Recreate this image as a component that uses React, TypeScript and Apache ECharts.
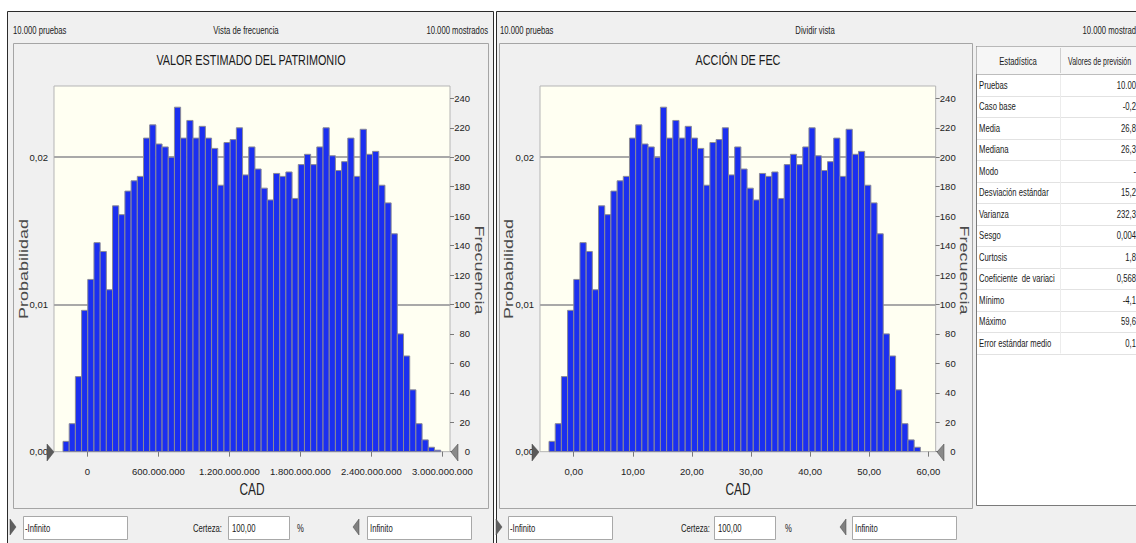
import React, { useEffect, useRef } from "react";
import * as echarts from "echarts";

// ---------- data ----------
const TRIALS = 10000;
const freqPatrimonio = [
  7, 19, 51, 96, 117, 142, 136, 110, 167, 161,
  177, 184, 187, 213, 222, 209, 207, 200, 234, 213,
  225, 213, 221, 213, 206, 181, 210, 212, 220, 188,
  207, 192, 179, 171, 189, 187, 190, 172, 195, 202,
  195, 207, 220, 201, 191, 197, 213, 187, 219, 202,
  204, 181, 169, 148, 80, 65, 42, 19, 8, 3, 1,
];
const freqFec = [
  7, 19, 51, 96, 117, 142, 136, 110, 167, 161,
  177, 184, 187, 213, 222, 209, 207, 200, 234, 213,
  225, 213, 221, 213, 206, 181, 210, 212, 220, 188,
  207, 192, 179, 171, 189, 187, 190, 172, 195, 202,
  195, 207, 220, 201, 191, 197, 213, 187, 219, 202,
  204, 181, 169, 148, 80, 65, 42, 19, 8, 3,
];
const binStartPatrimonio = -205.6e6;
const binWidthPatrimonio = 52.32e6;
const binStartFec = -4.17;
const binWidthFec = 1.047;

const xTicksPatrimonio = [0, 600e6, 1200e6, 1800e6, 2400e6, 3000e6];
const xTicksFec = [0, 10, 20, 30, 40, 50, 60];
const freqTicks = [0, 20, 40, 60, 80, 100, 120, 140, 160, 180, 200, 220, 240];
const probTicks = [0, 0.01, 0.02];
const probGridLines = [0.01, 0.02];

const statLabels = [
  "Pruebas", "Caso base", "Media", "Mediana", "Modo", "Desviación estándar",
  "Varianza", "Sesgo", "Curtosis", "Coeficiente  de variaci", "Mínimo", "Máximo",
  "Error estándar medio",
];
const statValues = [
  "10.00", "-0,2", "26,8", "26,3", "-", "15,2", "232,3", "0,004", "1,8", "0,568",
  "-4,1", "59,6", "0,1",
];

// ---------- helpers ----------
const FONT = "'Liberation Sans', Arial, sans-serif";
const Y_MAX = 248.4;
const SQ = 0.7; // horizontal squish of the screenshot

const fmtMiles = (v: number) =>
  Math.round(v).toString().replace(/\B(?=(\d{3})+(?!\d))/g, ".");
const fmtDec2 = (v: number) => v.toFixed(2).replace(".", ",");

const bins = (start: number, w: number, freq: number[]) =>
  freq.map((f, i) => [start + i * w, start + (i + 1) * w, f]);

const renderBar = (params: any, api: any) => {
  const s = api.value(0);
  const e = api.value(1);
  const v = api.value(2);
  const p0 = api.coord([s, v]);
  const p1 = api.coord([e, 0]);
  return {
    type: "rect",
    shape: { x: p0[0], y: p0[1], width: p1[0] - p0[0], height: p1[1] - p0[1] },
    style: { fill: "#1b2ff0", stroke: "#8a8a96", lineWidth: 1 },
  };
};

const txt = (
  x: number, y: number, text: string,
  o: { size?: number; align?: string; color?: string; rot?: number; sx?: number; sy?: number } = {}
) => ({
  type: "text",
  x, y,
  rotation: o.rot || 0,
  scaleX: o.sx === undefined ? SQ : o.sx,
  scaleY: o.sy === undefined ? 1 : o.sy,
  z: 50,
  style: {
    text,
    fontSize: o.size || 11,
    fontFamily: FONT,
    fill: o.color || "#1a1a1a",
    align: o.align || "left",
    verticalAlign: "middle",
  },
});

const rect = (x: number, y: number, w: number, h: number, fill: string, stroke: string, z = 0) => ({
  type: "rect",
  z,
  shape: { x, y, width: w, height: h },
  style: { fill, stroke, lineWidth: 1 },
});

const line = (x1: number, y1: number, x2: number, y2: number, stroke: string, z = 5) => ({
  type: "line",
  z,
  shape: { x1, y1, x2, y2 },
  style: { stroke, lineWidth: 1 },
});

const tri = (pts: number[][], fill: string) => ({
  type: "polygon",
  z: 60,
  shape: { points: pts },
  style: { fill, stroke: "#444", lineWidth: 0.5 },
});

function buildGraphic() {
  const g: any[] = [];
  // windows
  g.push(rect(7.5, 11.5, 486, 545, "#f0f0f0", "#2b2b2b", -10));
  g.push(rect(496.5, 11.5, 650, 545, "#f0f0f0", "#2b2b2b", -10));
  // chart frames
  g.push(rect(13.5, 43.5, 475, 465, "#f0f0f0", "#a5a5a5", -9));
  g.push(rect(499.5, 43.5, 473, 465, "#f0f0f0", "#a5a5a5", -9));

  // headers
  g.push(txt(13, 30, "10.000 pruebas"));
  g.push(txt(246, 30, "Vista de frecuencia", { align: "center" }));
  g.push(txt(488, 30, "10.000 mostrados", { align: "right" }));
  g.push(txt(500, 30, "10.000 pruebas"));
  g.push(txt(815, 30, "Dividir vista", { align: "center" }));
  g.push(txt(1136, 30, "10.000 mostrad", { align: "right" }));

  // titles
  g.push(txt(251, 60, "VALOR ESTIMADO DEL PATRIMONIO", { size: 15.5, align: "center" }));
  g.push(txt(738, 60, "ACCIÓN DE FEC", { size: 15.5, align: "center" }));

  // axis names
  g.push(txt(24, 269, "Probabilidad", { size: 18, align: "center", color: "#4a4a4a", rot: Math.PI / 2, sx: 1, sy: SQ }));
  g.push(txt(509, 269, "Probabilidad", { size: 18, align: "center", color: "#4a4a4a", rot: Math.PI / 2, sx: 1, sy: SQ }));
  g.push(txt(479, 270, "Frecuencia", { size: 18, align: "center", color: "#4a4a4a", rot: -Math.PI / 2, sx: 1, sy: SQ }));
  g.push(txt(964, 270, "Frecuencia", { size: 18, align: "center", color: "#4a4a4a", rot: -Math.PI / 2, sx: 1, sy: SQ }));
  g.push(txt(252, 489, "CAD", { size: 17, align: "center", color: "#222" }));
  g.push(txt(738, 489, "CAD", { size: 17, align: "center", color: "#222" }));

  // axis grabber triangles
  g.push(tri([[47, 444], [54, 452], [47, 461]], "#5a5a5a"));
  g.push(tri([[458, 444], [451, 452], [458, 461]], "#8a8a8a"));
  g.push(tri([[532, 444], [539, 452], [532, 461]], "#5a5a5a"));
  g.push(tri([[944, 444], [937, 452], [944, 461]], "#8a8a8a"));

  // bottom controls
  const ctrls = [
    { t1: 10, b1: 23, ct: 222, b2: 228, pc: 297, t2: 353, b3: 367 },
    { t1: 496, b1: 508, ct: 710, b2: 714, pc: 785, t2: 840, b3: 852 },
  ];
  ctrls.forEach((c) => {
    g.push(tri([[c.t1, 519], [c.t1 + 6, 527], [c.t1, 535]], "#606060"));
    g.push(rect(c.b1 + 0.5, 516.5, 104, 23, "#ffffff", "#a8a8a8", 40));
    g.push(txt(c.b1 + 2, 528, "-Infinito"));
    g.push(txt(c.ct, 528, "Certeza:", { align: "right" }));
    g.push(rect(c.b2 + 0.5, 516.5, 61, 23, "#ffffff", "#a8a8a8", 40));
    g.push(txt(c.b2 + 4, 528, "100,00"));
    g.push(txt(c.pc, 528, "%"));
    g.push(tri([[c.t2 + 6, 519], [c.t2, 527], [c.t2 + 6, 535]], "#808080"));
    g.push(rect(c.b3 + 0.5, 516.5, 104, 23, "#ffffff", "#a8a8a8", 40));
    g.push(txt(c.b3 + 3, 528, "Infinito"));
  });

  // statistics table
  g.push(rect(976.5, 46.5, 170, 459, "#ffffff", "#7a7a7a", 30));
  g.push(rect(977, 47, 170, 27, "#f6f6f6", "#f6f6f6", 31));
  g.push(line(977, 74.5, 1136, 74.5, "#bdbdbd", 32));
  g.push(line(1060.5, 48, 1060.5, 73, "#cfcfcf", 32));
  g.push(txt(1018, 61, "Estadística", { align: "center" }));
  g.push(txt(1068, 61, "Valores de previsión", { sx: 0.64 }));
  const rowH = 21.5;
  statLabels.forEach((lab, i) => {
    const yc = 74 + rowH * i + rowH / 2;
    const yl = Math.round(74 + rowH * (i + 1)) + 0.5;
    g.push(line(977, yl, 1136, yl, "#e2e2e2", 32));
    g.push(txt(979, yc, lab));
    g.push(txt(1136, yc, statValues[i], { align: "right" }));
  });
  g.push(line(1060.5, 75, 1060.5, 74 + rowH * statLabels.length, "#ececec", 32));
  return g;
}

const tickFont = { fontFamily: FONT, fontSize: 9.5, color: "#222" };

function axisX(gridIndex: number, min: number, max: number, ticks: number[], fmt: (v: number) => string) {
  return {
    type: "value",
    gridIndex,
    min,
    max,
    axisLine: { show: false },
    splitLine: { show: false },
    axisTick: { show: true, customValues: ticks, length: 5, lineStyle: { color: "#7a7a7a" } },
    axisLabel: {
      ...tickFont,
      customValues: ticks,
      formatter: (v: number) => fmt(v),
      margin: 15,
    },
  };
}

function axisProb(gridIndex: number) {
  return {
    type: "value",
    gridIndex,
    position: "left",
    min: 0,
    max: Y_MAX,
    axisLine: { show: false },
    axisTick: { show: false, customValues: probGridLines.map((p) => p * TRIALS) },
    axisLabel: {
      ...tickFont,
      customValues: probTicks.map((p) => p * TRIALS),
      formatter: (v: number) => fmtDec2(v / TRIALS),
      margin: 6,
    },
    splitLine: {
      show: true,
      lineStyle: { color: "#a9a9a9", width: 2 },
    },
  };
}

function axisFreq(gridIndex: number) {
  return {
    type: "value",
    gridIndex,
    position: "right",
    min: 0,
    max: Y_MAX,
    axisLine: { show: false },
    axisTick: { show: true, customValues: freqTicks, length: 4, lineStyle: { color: "#7a7a7a" } },
    axisLabel: {
      ...tickFont,
      customValues: freqTicks,
      align: "right",
      margin: 20,
    },
    splitLine: { show: false },
  };
}

export default function App() {
  const ref = useRef<HTMLDivElement>(null);
  useEffect(() => {
    if (!ref.current) return;
    const chart = echarts.init(ref.current, null, { renderer: "svg" });
    const gridBase = {
      top: 86,
      height: 365.67,
      show: true,
      backgroundColor: "#fffff2",
      borderColor: "#b5b5b5",
      borderWidth: 1,
    };
    chart.setOption({
      animation: false,
      grid: [
        { ...gridBase, left: 54, width: 396 },
        { ...gridBase, left: 540, width: 395.67 },
      ],
      xAxis: [
        axisX(0, -281.7e6, 3064.8e6, xTicksPatrimonio, fmtMiles),
        axisX(1, -5.696, 61.24, xTicksFec, fmtDec2),
      ],
      yAxis: [axisProb(0), axisFreq(0), axisProb(1), axisFreq(1)],
      series: [
        {
          type: "custom",
          xAxisIndex: 0,
          yAxisIndex: 1,
          renderItem: renderBar,
          encode: { x: [0, 1], y: 2 },
          data: bins(binStartPatrimonio, binWidthPatrimonio, freqPatrimonio),
          z: 3,
        },
        {
          type: "custom",
          xAxisIndex: 1,
          yAxisIndex: 3,
          renderItem: renderBar,
          encode: { x: [0, 1], y: 2 },
          data: bins(binStartFec, binWidthFec, freqFec),
          z: 3,
        },
      ],
      graphic: buildGraphic(),
    });
    return () => chart.dispose();
  }, []);
  return (
    <div
      ref={ref}
      style={{ position: "fixed", left: 0, top: 0, width: 1136, height: 543, background: "#ffffff" }}
    />
  );
}
